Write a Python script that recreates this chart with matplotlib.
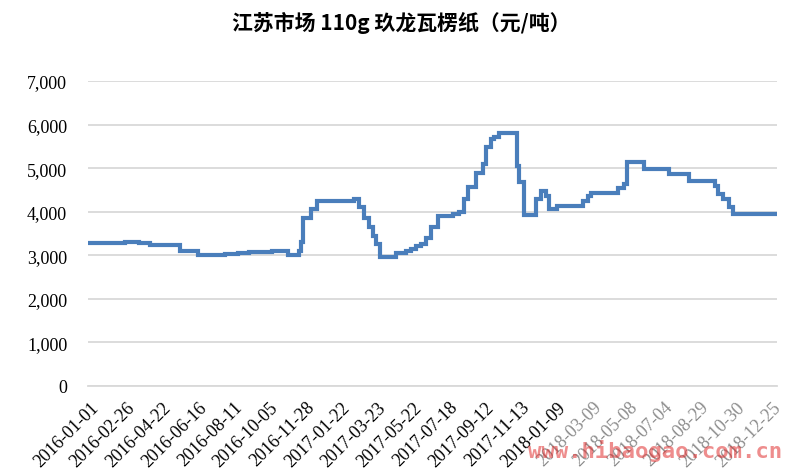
import matplotlib.pyplot as plt
import numpy as np
import pandas as pd

plt.rcParams['font.family'] = ['Liberation Serif', 'Noto Sans CJK SC', 'DejaVu Sans']

# price change dates and the price valid from that date (yuan/ton)
change_dates = [
    "2016-01-01", "2016-02-24", "2016-03-18", "2016-04-04", "2016-05-20",
    "2016-06-17", "2016-07-29", "2016-08-18", "2016-09-03", "2016-10-09",
    "2016-11-01", "2016-11-18", "2016-11-21", "2016-11-25", "2016-12-06",
    "2016-12-15", "2017-02-12", "2017-02-20", "2017-03-01", "2017-03-09",
    "2017-03-16", "2017-03-21", "2017-03-28", "2017-04-23", "2017-05-10",
    "2017-05-18", "2017-05-27", "2017-06-04", "2017-06-11", "2017-06-19",
    "2017-06-30", "2017-07-24", "2017-08-03", "2017-08-11", "2017-08-17",
    "2017-08-29", "2017-09-09", "2017-09-14", "2017-09-23", "2017-09-28",
    "2017-10-07", "2017-11-07", "2017-11-10", "2017-11-18", "2017-12-07",
    "2017-12-15", "2017-12-23", "2017-12-28", "2018-01-10", "2018-02-22",
    "2018-03-02", "2018-03-07", "2018-04-21", "2018-04-30", "2018-05-06",
    "2018-06-01", "2018-07-12", "2018-08-11", "2018-09-23", "2018-09-28",
    "2018-10-08", "2018-10-17", "2018-10-24", "2018-12-31",
]
prices = [
    3270, 3310, 3280, 3230, 3100,
    3000, 3020, 3060, 3080, 3100,
    3000, 3100, 3300, 3850, 4050,
    4250, 4300, 4100, 3850, 3650,
    3450, 3250, 2970, 3050, 3100,
    3150, 3220, 3260, 3390, 3640,
    3900, 3950, 4000, 4300, 4560,
    4890, 5100, 5480, 5670, 5710,
    5800, 5060, 4680, 3920, 4290,
    4480, 4370, 4060, 4140, 4250,
    4370, 4440, 4540, 4640, 5150,
    4980, 4870, 4710, 4600, 4410,
    4290, 4100, 3950, 3950,
]
tick_labels = [
    "2016-01-01", "2016-02-26", "2016-04-22", "2016-06-16", "2016-08-11",
    "2016-10-05", "2016-11-28", "2017-01-22", "2017-03-23", "2017-05-22",
    "2017-07-18", "2017-09-12", "2017-11-13", "2018-01-09", "2018-03-09",
    "2018-05-08", "2018-07-04", "2018-08-29", "2018-10-30", "2018-12-25",
]

origin = pd.Timestamp("2016-01-01")
tick_days = np.array([(pd.Timestamp(d) - origin).days for d in tick_labels])
days = np.array([(pd.Timestamp(d) - origin).days for d in change_dates])
# category-like axis: tick labels are evenly spaced
xpos = np.interp(days, tick_days, np.arange(len(tick_days)),
                 right=len(tick_days) - 1 + (days[-1] - tick_days[-1]) / 57.3)

fig = plt.figure(figsize=(7.85, 4.77), dpi=100)
ax = fig.add_axes([0.1121, 0.189, 0.8775, 0.639])

ax.plot(xpos, prices, drawstyle="steps-post", color="#4a7ebb", lw=3.0,
        solid_joinstyle="miter")

ax.set_ylim(0, 7000)
ax.set_xlim(-0.06, xpos[-1] + 0.03)
ax.set_yticks(np.arange(0, 7001, 1000))
ax.set_yticklabels([f"{v:,}" for v in range(0, 7001, 1000)], fontsize=13)
ax.yaxis.grid(True, color="#d9d9d9", lw=1.3)
ax.set_axisbelow(True)
for s in ["top", "right", "left"]:
    ax.spines[s].set_visible(False)
ax.spines["bottom"].set_color("#d9d9d9")
ax.spines["bottom"].set_linewidth(1.3)
ax.tick_params(axis="both", length=0)
ax.tick_params(axis="y", pad=15)

ax.set_xticks(np.arange(len(tick_labels)))
ax.set_xticklabels(tick_labels, rotation=45, ha="right",
                   rotation_mode="anchor", fontsize=13)
ax.tick_params(axis="x", pad=9)
for i, lab in enumerate(ax.get_xticklabels()):
    if i >= 14:
        lab.set_color("#8c8c8c")

fig.text(0.511, 0.952, "江苏市场 110g 玖龙瓦楞纸（元/吨）", ha="center", va="center",
         fontsize=15, fontweight="bold",
         family=["Noto Sans CJK SC", "DejaVu Sans"])

fig.text(0.835, 0.055, "www.hibaogao.com.cn", ha="center", va="center",
         fontsize=16, fontweight="bold", family="DejaVu Sans Mono",
         color="#e03030", alpha=0.55)

fig.savefig("out.png", dpi=100)
